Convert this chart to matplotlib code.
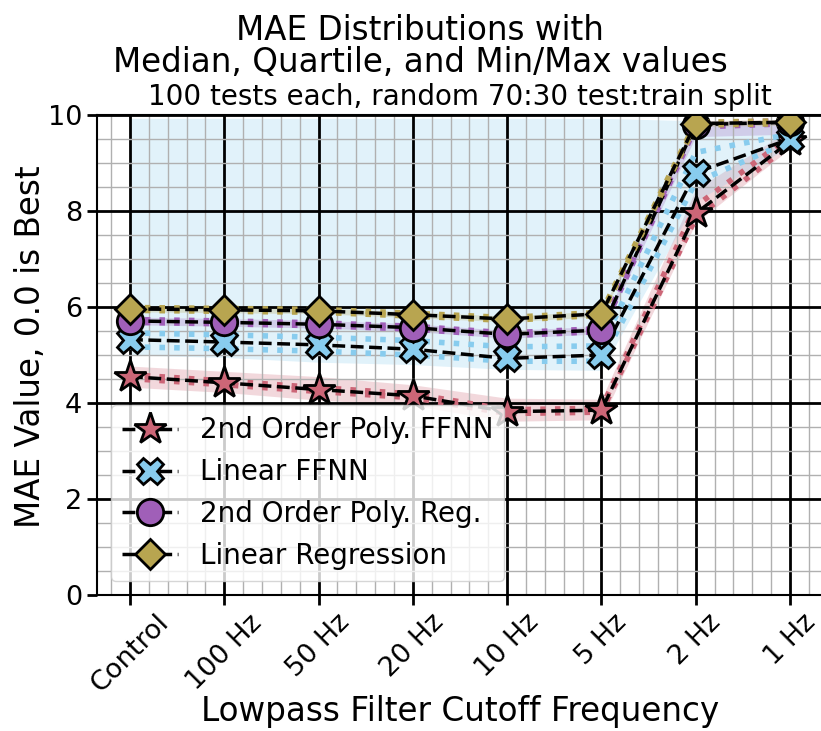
import numpy as np
import matplotlib
matplotlib.use("Agg")
import matplotlib.pyplot as plt
from matplotlib.ticker import MultipleLocator

# cutoff settings on the x axis
cutoffs = ["Control", "100 Hz", "50 Hz", "20 Hz", "10 Hz", "5 Hz", "2 Hz", "1 Hz"]

# 2nd order polynomial FFNN
poly_ffnn_med = [4.55, 4.42, 4.28, 4.15, 3.82, 3.85, 7.95, 9.45]
poly_ffnn_q1 = [4.51, 4.38, 4.24, 4.11, 3.78, 3.81, 7.85, 9.38]
poly_ffnn_q3 = [4.59, 4.46, 4.32, 4.19, 3.86, 3.89, 8.10, 9.55]
poly_ffnn_min = [4.33, 4.22, 4.06, 3.95, 3.62, 3.65, 7.75, 9.30]
poly_ffnn_max = [4.77, 4.66, 4.55, 4.38, 4.10, 4.08, 8.45, 9.70]

# linear FFNN
lin_ffnn_med = [5.32, 5.27, 5.21, 5.12, 4.93, 5.00, 8.80, 9.50]
lin_ffnn_q1 = [5.17, 5.13, 5.08, 5.00, 4.87, 4.87, 8.60, 9.45]
lin_ffnn_q3 = [5.46, 5.42, 5.37, 5.30, 5.17, 5.19, 9.22, 9.60]
lin_ffnn_min = [5.00, 4.95, 4.85, 4.80, 4.70, 4.68, 8.20, 9.35]
lin_ffnn_max = [9.93, 9.93, 9.93, 9.93, 9.93, 9.93, 9.88, 9.88]

# 2nd order polynomial regression
poly_reg_med = [5.71, 5.68, 5.64, 5.57, 5.43, 5.52, 9.80, 9.85]
poly_reg_q1 = [5.68, 5.65, 5.61, 5.54, 5.40, 5.49, 9.75, 9.82]
poly_reg_q3 = [5.74, 5.71, 5.67, 5.60, 5.46, 5.55, 9.84, 9.88]
poly_reg_min = [5.63, 5.60, 5.56, 5.49, 5.35, 5.44, 9.55, 9.60]
poly_reg_max = [5.79, 5.76, 5.72, 5.65, 5.51, 5.60, 9.88, 9.90]

# linear regression
lin_reg_med = [5.96, 5.94, 5.92, 5.84, 5.75, 5.86, 9.82, 9.85]
lin_reg_q1 = [5.93, 5.91, 5.89, 5.81, 5.72, 5.83, 9.79, 9.82]
lin_reg_q3 = [5.99, 5.97, 5.95, 5.87, 5.78, 5.89, 9.85, 9.88]
lin_reg_min = [5.90, 5.88, 5.86, 5.78, 5.69, 5.80, 9.76, 9.79]
lin_reg_max = [6.02, 6.00, 5.98, 5.90, 5.81, 5.92, 9.88, 9.91]

labels = ["2nd Order Poly. FFNN", "Linear FFNN", "2nd Order Poly. Reg.", "Linear Regression"]
colors = ["#CC6677", "#88CCEE", "#A05FB8", "#B8A550"]
markers = ["*", "X", "o", "D"]
sizes = [24, 19, 19, 15]

series = [
    (poly_ffnn_med, poly_ffnn_q1, poly_ffnn_q3, poly_ffnn_min, poly_ffnn_max),
    (lin_ffnn_med, lin_ffnn_q1, lin_ffnn_q3, lin_ffnn_min, lin_ffnn_max),
    (poly_reg_med, poly_reg_q1, poly_reg_q3, poly_reg_min, poly_reg_max),
    (lin_reg_med, lin_reg_q1, lin_reg_q3, lin_reg_min, lin_reg_max),
]

fig = plt.figure(figsize=(8.21, 7.31), dpi=100)
ax = fig.add_axes([97 / 821, 136 / 731, 726 / 821, 480 / 731])

x = np.arange(len(cutoffs))
for (med, q1, q3, lo, hi), lab, c, m, s in zip(series, labels, colors, markers, sizes):
    # min/max band, quartiles dotted, median dashed with markers
    ax.fill_between(x, lo, hi, color=c, alpha=0.25, linewidth=0)
    ax.plot(x, q1, ls=":", lw=4, color=c)
    ax.plot(x, q3, ls=":", lw=4, color=c)
    ax.plot(x, med, ls="--", lw=2.5, color="black", marker=m, markersize=s,
            markerfacecolor=c, markeredgecolor="black", markeredgewidth=2,
            label=lab)

ax.set_xlim(-0.35, 7.35)
ax.set_ylim(0, 10)
ax.set_xticks(x)
ax.set_xticklabels(cutoffs, rotation=45, fontsize=19.5)
ax.yaxis.set_major_locator(MultipleLocator(2))
ax.xaxis.set_minor_locator(MultipleLocator(0.2))
ax.yaxis.set_minor_locator(MultipleLocator(0.5))
ax.tick_params(axis="y", labelsize=19.5)
ax.tick_params(which="major", width=2, length=7)
ax.tick_params(which="minor", length=0)
ax.grid(which="major", color="black", linewidth=2)
ax.grid(which="minor", color="#b0b0b0", linewidth=1)
for sp in ax.spines.values():
    sp.set_linewidth(1.5)

ax.set_xlabel("Lowpass Filter Cutoff Frequency", fontsize=23.5)
ax.set_ylabel("MAE Value, 0.0 is Best", fontsize=23.5)
ax.xaxis.set_label_coords(0.5, -0.208)
ax.yaxis.set_label_coords(-0.069, 0.517)

fig.text(420 / 821, 1 - 31 / 731, "MAE Distributions with", fontsize=23.5,
         ha="center", va="center")
fig.text(420 / 821, 1 - 63 / 731, "Median, Quartile, and Min/Max values",
         fontsize=23.5, ha="center", va="center")
fig.text(460 / 821, 1 - 97 / 731, "100 tests each, random 70:30 test:train split",
         fontsize=20, ha="center", va="center")

ax.legend(loc="lower left", fontsize=20)

fig.savefig("out.png", dpi=100)
